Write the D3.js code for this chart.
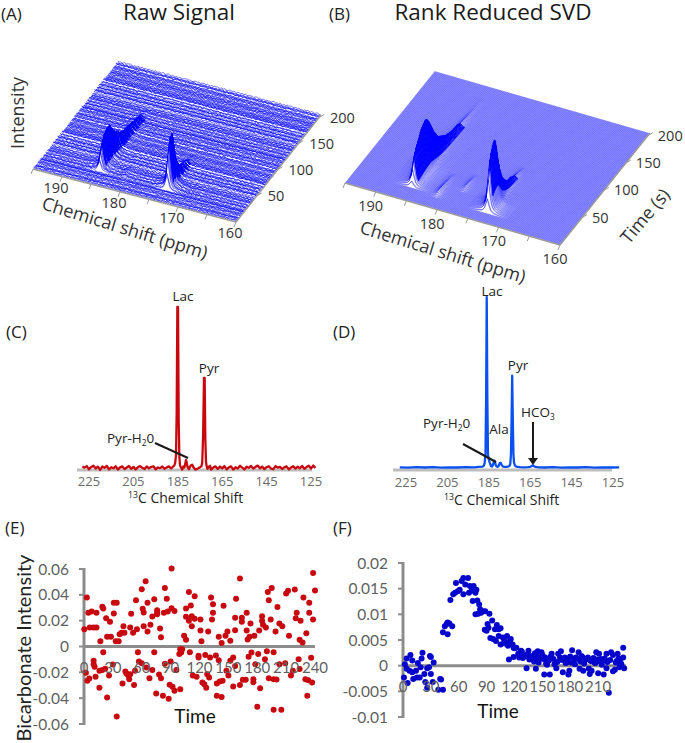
<!DOCTYPE html>
<html><head><meta charset="utf-8">
<script src="https://cdn.jsdelivr.net/npm/d3@7"></script>
<style>html,body{margin:0;padding:0;background:#fff}svg{display:block}text{font-family:"Open Sans",sans-serif}</style>
</head><body><svg id="c" width="685" height="743"></svg>
<script>
// ---------- surface data ----------
const ppmTicks=[190,180,170,160], ppmAllTicks=[195,190,185,180,175,170,165,160], timeTicks=[50,100,150,200];
const rowTimes=d3.range(1,205,1);
const ppmGrid=d3.range(195,159.9,-0.25);
const lineShape=[1,.62,.3,.16,.1,.07,.05,.035,.025,.018,.012,.007,.004];
// envelopes start at the first listed row (one entry per 2 s)
const lacA={ppm:185.2,start:24,amp:[10,18,22,25,27,29,31,32,33,34,34,33,32,30,28,26,24,22,20,18.5,17,16,15,14,13,12.5,12,11.5,11,10.5,10,9.8,9.5,9.2,9,8.5,8,7.8,7.4,7.2,7,6.6,6.3,5.9,5.5,5.1,4.7,4.3,3.9,3.5,3.1,2.7,2.3,1.9,1.5,1.1,.7,.4,.2]};
const pyrA={ppm:173.5,start:22,amp:[16,30,38,44,48,50,50,44,36,28,22,18,15,12.5,10.5,9,7.5,6.5,5.8,5.3,5,4.6,4.2,3.8,3.4,3,2.6,2.2,1.8,1.4,1,.7,.4,.2]};
const phoA={ppm:181,start:20,amp:[.6,1.2,1.8,2.2,2.2,2,1.8,1.6,1.5,1.3,1.2,1,.9,.6,.6,.3]};
const lacB={ppm:185.7,start:22,amp:[6,16,24,28,31,34,36,38,40,42,44,46,47,48,49,50,50,49,47,45,43,40,37,34,31,28,26,24,22,20,18,17,16,15,14,13,12,11,10,9.5,9,8.5,8,7.5,7,6.5,6,5.7,5.3,5,4.7,4.4,4.1,3.8,3.5,3.3,3,2.8,2.6,2.4,2.2,2,1.8,1.6,1.4,1.3,1.1,1,.9,.8,.7,.6,.5,.5,.4,.4,.3,.3,.2,.2]};
const pyrB={ppm:173.1,start:16,amp:[14,32,42,50,55,58,61,63,64,62,56,48,40,34,28,24,20,17,15,13,11,9.5,8.5,7.5,6.5,6,5.5,5,4.5,4,3.6,3.2,2.8,2.4,2,1.7,1.4,1.1,.8,.5,.3]};
const phoB={ppm:181.4,start:18,amp:[.6,1.5,2.4,3,3.3,3.4,3.4,3.1,2.8,2.6,2.4,2.2,2,1.7,1.4,1.2,1,.8,.6,.4,.2]};
const alaB={ppm:178.5,start:38,amp:[.5,1,1.5,1.9,2.1,2.1,2,1.9,1.6,1.4,1.1,.9,.6,.4,.2]};
const rippleA=[.4,-.8,.9,-.2,.6,-1,.3,.8,-.5,.1,-.9,.7,-.3,1,-.6,.2,-.7,.5,.9,-.4,-1,.6,.1,-.8,.8,-.1,.4,-.6,1,-.9,.3,.7,-.2,-.5,.9,-.7,.2,.6,-1,.5,-.3,.8,-.4];
const rowOffsetA=[.3,-.6,1,-.2,.5,-1,.2,.8,-.4,.6,-.9,1.8,-.3,.5,-.7,.1,2,-.5,.4,-.8,.2,1,-.2,-.6,.7,-.1,2.2,-.9,.3,.6,-.4,.1,-1,1.6,-.3,.5,-.6,.9,-.2,2.4,-.7,.4,.2,-1,.6,.1,1.7,-.5,.3,-.8,.8,-.2,.4,2.3,-.9,.5,-.1,-.6,.9,.2,-.4,1.9,-.7,.3,.6,-1,.1,.7,2.1,-.3,-.5,.4,-.8,1,.2,-.2,1.5,-.6,.5,-.9,.3,.8,-.1,2,-.4,.6,-.7,.2,1.2,-.5,.4,-.2,1.8,-.8,.1,.7,-.3,.5,1.4,-.6];
const rowPhase=[7,31,2,19,41,12,26,5,37,16,29,9,34,21,1,24,39,14,6,32,18,42,10,27,3,35,22,13,38];
// ---------- spectra data ----------
const specCppm=[228,227,226,225,224,223,222,221,220,219,218,217,216,215,214,213,212,211,210,209,208,207,206,205,204,203,202,201,200,199,198,197,196,195,194,193,192,191,190,189,188,187.2,186.6,186.2,185.8,185.5,185.2,184.9,184.6,184.3,184,183.6,183,182.5,182,181.6,181.3,181,180.6,180,179.2,178.5,178,177,176,175,174.4,174,173.6,173.2,172.9,172.6,172.3,172,171.6,171,170.5,170,169,168,167,166,165,164,163,162,161,160,159,158,157,156,155,154,153,152,151,150,149,148,147,146,145,144,143,142,141,140,139,138,137,136,135,134,133,132,131,130,129,128,127,126,125,124,123];
const specCval=[1,.2,1.2,-.8,.6,1.4,-.3,.8,-1.2,.9,.1,1.3,-.9,.5,-.2,1.1,-1,.4,1,-.7,.3,1.2,-.5,.7,-.9,.4,1.2,.1,-.6,1,-.2,.6,1.1,-.8,.3,-.1,.9,-.5,.4,1,-.3,.8,1.5,3,8,35,100,100,30,7,1.5,.5,-1,1,.3,3,5,3.5,.6,-.7,1.5,2,.5,-1,-.3,.5,1,3,20,56,56,18,4,1,-.5,.8,1.4,-1,.3,1,-.6,.9,-.2,1.2,-.8,.4,1,-1,.5,-.3,1.4,.2,-.9,.8,.1,1.3,-.4,.6,1.5,-.2,.9,-.7,.5,1.1,-.3,-.8,1.2,.2,.7,-.6,.4,1,-.9,.3,1.1,-.4,.8,-.2,1.3,-.5,.6,1.4,-.3,1.5,.1];
const specDppm=[228,224,220,216,212,208,204,200,196,192,190,188,187.4,187,186.6,186.3,186,185.7,185.4,185,184.5,184,183.5,183,182.6,182.3,182,181.6,181,180.4,180,179.6,179.2,178.8,178.2,177.5,176,175,174.6,174.3,174,173.7,173.4,173.1,172.8,172.4,172,171,170,168,166,165,164.2,163.7,163.2,162.5,161,158,154,150,146,142,138,134,130,126,122];
const specDval=[.4,.2,.5,.3,.5,.2,.4,.3,.5,.4,.6,.8,1.3,3,8,40,100,40,8,5,3,1.2,.8,1.8,3.5,4.2,3.5,1.5,.7,.9,2,3,3,1.8,.9,.6,.7,1.2,2.5,8,28,54,28,8,3,1.5,1,.6,.5,.4,.5,.7,1.2,1.6,1.1,.6,.4,.3,.5,.2,.4,.3,.5,.2,.4,.3,.4];
const shiftTicks=[225,205,185,165,145,125];
// ---------- scatter data ----------
const eTime=[0.3,3,4.5,8,6,10,13,13,17,19,20,23,24,28,27,31,31,34,33,36,37,39,41,42,48,49,51,54,55,60,61,62,62,64,66,66,69,71,73,76,76,76,79,80,84,83,86,87,91,91,94,104,106,106,106,109,109,111,112,112,115,115,121,121,122,129,132,134,134,133,140,143,145,147,149,152,157,158,157,162,164,164,169,169,170,172,173,177,182,185,185,186,189,191,192,194,195,199,201,203,206,213,210,212,219,220,221,225,224,227,228,231,234,234,238,238,240,
2,3.5,5.5,10,10,11,12,16,16,19,20,22,24,26,30,34,40,43,44,46,47,48,52,53,56,57,60,65,68,71,73,75,78,80,82,84,88,89,90,92,94,96,99,100,100,101,102,110,113,117,119,119,123,125,127,126,128,130,131,137,138,138,140,141,143,144,148,150,155,152,155,157,162,165,168,171,174,176,176,178,181,180,183,188,190,192,197,197,200,197,203,205,209,215,217,223,224,230,232,233,236,237];
const eValue=[.0134,.0379,.0261,.0271,.0147,.0147,.0261,.0147,.0041,.0307,.0294,.0219,.0075,.0075,.0191,.0255,.0338,.0338,.0041,.0041,.0095,.0106,.0157,.0106,.0147,.0253,.0106,.0359,.0134,.0444,.0292,.0263,.0157,.0506,.0116,.0338,.0168,.0232,.0366,.025,.0263,.0281,.0139,.0072,.0452,.0261,.0369,.0271,.0604,.0297,.0274,.0083,.0052,.0294,.023,.0421,.0199,.0317,.0157,.0235,.039,.0214,.0209,.0124,.0041,.0116,.0379,.0328,.0261,.0209,.0075,.0028,.0315,.0083,.0116,.0044,.0126,.0369,.0222,.0526,.0222,.0191,.0261,.0124,.0054,.0075,.0178,.0083,.0124,.0235,.0199,.0168,.0147,.0421,.0359,.0209,.0452,.0116,.0305,.0178,.0157,.0083,.041,.0431,.0441,.0219,.0261,.0199,.0052,.0031,.0379,.0103,.0338,.0261,.0209,.057,.0434,
-.0204,-.0266,-.0248,-.0137,-.0111,-.0157,-.0235,-.032,-.0188,-.0181,-.0044,-.0173,-.0395,-.0225,-.0139,-.0542,-.0286,-.0194,-.0209,-.0225,-.0253,-.0214,-.0299,-.0188,-.0044,-.0116,-.0129,-.0163,-.0245,-.0181,-.0044,-.0364,-.0217,-.0245,-.0382,-.0134,-.0405,-.0297,-.0116,-.0312,-.0343,-.0181,-.0059,-.033,-.0021,-.0046,-.0021,-.0044,-.0225,-.0235,-.0072,-.0085,-.0279,-.0292,-.032,-.0065,-.0214,-.024,-.0085,-.007,-.0382,-.0286,-.0106,-.0271,-.039,-.0266,-.0188,-.0225,-.031,-.0111,-.0085,-.015,-.0299,-.0258,-.0258,-.008,-.0046,-.0253,-.0276,-.0137,-.0059,-.0467,-.0323,-.0098,-.0036,-.0245,-.0044,-.0253,-.0255,-.049,-.0137,-.049,-.0129,-.0225,-.0188,-.0098,-.0175,-.0253,-.0382,-.0261,-.0088,-.0279];
const fTime=[1,2,4,5,4,7,8,10,10,11,14,15,16,18,19,20,21,23,24,26,26,28,29,30,30,33,32,38,40,41,43,43,45,47,48,48,50,53,51,54,56,57,59,61,63,65,65,67,70,71,72,74,75,76,78,79,80,82,78,81,83,84,86,88.5,88,90,91,93,94,92,96,97,99,100,101,103,103,105,105,107.5,109,110,112,113,115,116,118,119,120,122,114,119,124,125,127,129,133,131,135,137,139,142,143,145,143,149,151,153,152,158,155,157,160,163,165,167,170,172,174,176,178,179,181,182,184,186,189,192,190,194,199,201,203,204,206,208,210,211,213,216,218,219,221.5,219,224,228,229,231,234,237,237,238,226,233,
126,128,131,134,136,139,141,144,146,148,150,154,156,159,162,166,169,171,175,177,180,183,185,188,191,193,195,197,200,202,205,207,209,212,214,217,220,223,226,230,232,235];
const fValue=[-.0023,.0003,-.0006,-.0034,.0014,-.001,.0021,.001,-.0013,-.0026,-.001,-.0023,.0005,-.0023,-.0003,.0014,.0025,-.0016,-.0032,-.0005,-.0043,-.0003,.0019,.0017,-.0016,.0006,-.0032,-.0047,-.0026,-.0027,-.0047,.0065,.0077,.0081,.0061,.0084,.0082,.0077,.0128,.0139,.0142,.0161,.0145,.0148,.0165,.0171,.0139,.0158,.0171,.0142,.0155,.0146,.0126,.0155,.0142,.0148,.0127,.0119,.01,.0101,.011,.0103,.0106,.0106,.007,.0068,.0081,.0101,.0054,.0074,.0088,.0052,.0071,.0048,.0079,.0071,.0058,.0073,.0041,.0055,.0048,.0043,.0058,.0039,.0048,.0052,.0041,.0035,.0034,.0035,.0012,.0017,.0023,.0016,.0029,.0015,-.0005,.0019,.0029,.0013,.0019,.0024,.001,.0028,-.0006,.0026,.0013,.0016,-.0017,-.0017,.0002,.001,.0023,.0003,-.0005,.0023,.0028,-.0013,.0016,.0006,-.0017,-.001,.0006,.003,.0013,.0016,.0026,.0019,-.0006,-.001,.0016,-.0016,-.001,.001,.0006,.0026,-.0015,.0023,.0013,-.0017,.001,-.0005,-.0053,.0023,.0026,-.0008,.0006,.0023,.0006,.0035,.0016,-.0005,-.0011,-.0003,
.0021,.0027,.0018,.0022,.0012,.0017,.0008,.0019,.0006,.0015,.0021,.0004,.0009,.0018,.0013,.0007,.0016,.0011,.0005,.0014,.0018,.0009,.0003,.0013,.0008,.0017,.0004,.0012,-.0006,.0009,.0015,.0005,.0012,.0008,.0002,.0014,.0007,.0011,.0021,.0009,.0014,.0003];
const eX=[0,30,60,90,120,150,180,210,240], eY=[-.06,-.04,-.02,0,.02,.04,.06];
const fX=[0,30,60,90,120,150,180,210], fY=[-.01,-.005,0,.005,.01,.015,.02];

const svg=d3.select('#c');
const LBL='#333', GRAY='#8c8c8c';
function txt(x,y,s,o={}){const t=svg.append('text').attr('x',x).attr('y',y).attr('font-size',o.size||14).attr('fill',o.fill||'#222').attr('text-anchor',o.anchor||'middle').text(s);if(o.font)t.style('font-family',o.font);if(o.rot!==undefined)t.attr('transform',`rotate(${o.rot} ${x} ${y})`);return t;}
function scripted(x,y,parts,o={}){const t=svg.append('text').attr('x',x).attr('y',y).attr('font-size',o.size||14).attr('fill',o.fill||'#222').attr('text-anchor',o.anchor||'start');
  let prev=0;parts.forEach(p=>{const sp=t.append('tspan').text(p[0]);const d=p[1]||0;sp.attr('dy',d-prev);if(d)sp.attr('font-size',(o.size||14)*.62);prev=d;});return t;}

// ---------- waterfalls ----------
function waterfall(cfg){
  const s=d3.scaleLinear().domain([195,160]).range([0,1]);
  const u=d3.scaleLinear().domain([0,205]).range([0,1]);
  const z=d3.scaleLinear().domain([0,100]).range([0,100]);
  const P=(ppm,t,h=0)=>{const a=s(ppm),b=u(t);return [cfg.fl[0]+a*(cfg.fr[0]-cfg.fl[0])+b*(cfg.bl[0]-cfg.fl[0]),cfg.fl[1]+a*(cfg.fr[1]-cfg.fl[1])+b*(cfg.bl[1]-cfg.fl[1])-z(h)];};
  const g=svg.append('g');
  const amp=(pk,t,ppm)=>{const i=Math.floor((t-pk.start)/2);if(i<0||i>=pk.amp.length)return 0;const k=Math.round(Math.abs(ppm-pk.ppm)/.25);return k<lineShape.length?pk.amp[i]*lineShape[k]:0;};
  const line=d3.line().x(d=>d[0]).y(d=>d[1]);
  for(let r=rowTimes.length-1;r>=0;r--){
    const t=rowTimes[r];
    const off=cfg.noise?rowOffsetA[(r*37)%rowOffsetA.length]:0;
    const pts=ppmGrid.map((p,c)=>{let h=cfg.peaks.reduce((v,pk)=>v+amp(pk,t,p),0);
      if(cfg.noise)h+=cfg.noise*rippleA[(c+rowPhase[r%rowPhase.length]+(c>>2))%rippleA.length]+off*cfg.rowAmp;
      return P(p,t,h);});
    const base=[P(160,t,-2),P(195,t,-2)];
    const mask=pts.map((d,c)=>{const rising=pts[c+1]&&pts[c+1][1]<d[1]-2.5;return [d[0]+(rising?1.1:-.15),d[1]+cfg.fillDrop];});
    g.append('path').attr('d',line(mask.concat(base))+'Z').attr('fill','#fff');
    g.append('path').attr('d',line(pts)).attr('fill','none').attr('stroke','#0000ff').attr('stroke-width',cfg.sw);
    // the main peaks' flanks read as solid blue once they have risen
    cfg.peaks.slice(0,2).forEach(pk=>{const i=Math.floor((t-pk.start)/2);
      if(i>=3&&i<pk.amp.length&&pk.amp[i]>3){
        const seg=pts.filter((d,c)=>{const o=(pk.ppm-ppmGrid[c])/.25;return o>=-3&&o<=3;});
        g.append('path').attr('d',line(seg)).attr('fill','none').attr('stroke','#0000ff').attr('stroke-width',1);}
    });
  }
  // axes
  const ax=svg.append('g').attr('stroke','#9a9a9a').attr('fill','none');
  const pth=(a,b)=>ax.append('line').attr('x1',a[0]).attr('y1',a[1]).attr('x2',b[0]).attr('y2',b[1]);
  pth(P(195,0),P(160,0)).attr('stroke-width',1.4);
  pth(P(160,0),P(160,205)).attr('stroke-width',1.4);
  ppmAllTicks.forEach(p=>{const a=P(p,0);pth(a,[a[0]-2,a[1]+5]).attr('stroke-width',1);});
  timeTicks.forEach(t=>{const a=P(160,t);pth(a,[a[0]+5,a[1]-3]).attr('stroke-width',1);});
  ppmTicks.forEach(p=>{const a=P(p,0);txt(a[0]+cfg.xo[0],a[1]+cfg.xo[1],p,{size:14.5,fill:LBL});});
  timeTicks.forEach(t=>{const a=P(160,t);txt(a[0]+cfg.yo[0],a[1]+cfg.yo[1],t,{size:14.5,fill:LBL,anchor:'start'});});
}
waterfall({fl:[33,169],fr:[236,222],bl:[118,62],peaks:[lacA,pyrA,phoA],noise:.7,rowAmp:.65,sw:.55,fillDrop:.85,xo:[-6,16],yo:[11,5]});
waterfall({fl:[345,183],fr:[560,245],bl:[435,71],peaks:[lacB,pyrB,phoB,alaB],noise:0,rowAmp:0,sw:.42,fillDrop:.75,xo:[-5,19],yo:[10,5]});

// panel text
txt(1,20,'(A)',{size:17,anchor:'start'});
txt(329,20,'(B)',{size:17,anchor:'start'});
txt(6,338,'(C)',{size:17,anchor:'start'});
txt(333,338,'(D)',{size:17,anchor:'start'});
txt(5,534,'(E)',{size:17,anchor:'start'});
txt(333,534,'(F)',{size:17,anchor:'start'});
txt(179,20,'Raw Signal',{size:22.5,fill:'#1a1a1a'});
txt(493,20,'Rank Reduced SVD',{size:22.5,fill:'#1a1a1a'});
txt(24,113,'Intensity',{size:18,fill:LBL,rot:-90});
txt(123,234,'Chemical shift (ppm)',{size:18,fill:LBL,rot:17});
txt(441,258,'Chemical shift (ppm)',{size:18,fill:LBL,rot:17});
txt(650,220,'Time (s)',{size:18,fill:LBL,rot:-50});

// ---------- spectra ----------
function spectrum(cfg){
  const x=d3.scaleLinear().domain([225,125]).range(cfg.xr);
  const y=d3.scaleLinear().domain([0,100]).range(cfg.yr);
  const g=svg.append('g');
  g.append('line').attr('x1',cfg.ax[0]).attr('x2',cfg.ax[1]).attr('y1',cfg.yr[0]+2).attr('y2',cfg.yr[0]+2).attr('stroke','#bdbdbd').attr('stroke-width',3);
  g.append('path').datum(cfg.p.map((d,i)=>[d,cfg.v[i]])).attr('fill','none').attr('stroke',cfg.col).attr('stroke-width',cfg.sw).attr('stroke-linejoin','round')
   .attr('d',d3.line().x(d=>x(d[0])).y(d=>y(d[1])));
  shiftTicks.forEach(t=>txt(x(t),cfg.ly,t,{size:13,fill:'#6b6b6b'}));
}
spectrum({xr:[89,311],yr:[468,307],ax:[77,312],p:specCppm,v:specCval,col:'#c8080f',sw:2.3,ly:486});
spectrum({xr:[406,613],yr:[468,297],ax:[393,612],p:specDppm,v:specDval,col:'#0a50f0',sw:2.3,ly:487});
txt(183,301,'Lac',{size:13.5});txt(209,373,'Pyr',{size:13.5});
txt(492,296,'Lac',{size:13.5});txt(518,370,'Pyr',{size:13.5});
scripted(107,443,[['Pyr-H'],['2',3],['0']],{size:13.5});
scripted(423,428,[['Pyr-H'],['2',3],['0']],{size:13.5});
txt(499,434,'Ala',{size:13.5});
scripted(521,417,[['HCO'],['3',3]],{size:13.5});
scripted(128,503,[['13',-5],['C Chemical Shift']],{size:14});
scripted(444,505,[['13',-5],['C Chemical Shift']],{size:14});
const lw=(a,b,w)=>svg.append('line').attr('x1',a[0]).attr('y1',a[1]).attr('x2',b[0]).attr('y2',b[1]).attr('stroke','#1a1a1a').attr('stroke-width',w);
lw([155,443],[188,458],2);
lw([463,444],[496,462],2);
lw([533,422],[533,460],2);
svg.append('path').attr('d','M528,458L538,458L533,465Z').attr('fill','#1a1a1a');

// ---------- scatter ----------
function scatter(cfg){
  const x=d3.scaleLinear().domain(cfg.xd).range(cfg.xr);
  const y=d3.scaleLinear().domain(cfg.yd).range(cfg.yr);
  const g=svg.append('g');
  const st=s=>s.attr('stroke',GRAY).attr('stroke-width',3).attr('fill','none');
  st(g.append('line').attr('x1',x(0)).attr('x2',cfg.xr[1]).attr('y1',y(0)).attr('y2',y(0)));
  st(g.append('line').attr('x1',x(0)).attr('x2',x(0)).attr('y1',cfg.yr[1]-1).attr('y2',cfg.yr[0]+1));
  cfg.yt.forEach(v=>{g.append('line').attr('x1',x(0)-5).attr('x2',x(0)).attr('y1',y(v)).attr('y2',y(v)).attr('stroke',GRAY).attr('stroke-width',2);
    txt(x(0)-15,y(v)+5.5,v,{size:15.5,fill:'#5f5f5f',anchor:'end',font:'Lato'});});
  cfg.xt.forEach(v=>{txt(x(v),y(0)+26,v,{size:15,fill:'#5f5f5f',font:'Lato'});});
  g.selectAll('circle').data(cfg.t.map((d,i)=>[d,cfg.v[i]])).join('circle').attr('cx',d=>x(d[0])).attr('cy',d=>y(d[1])).attr('r',3).attr('fill',cfg.col);
}
scatter({xd:[0,240],xr:[84,315],yd:[-.06,.06],yr:[724,569],xt:eX,yt:eY,t:eTime,v:eValue,col:'#c8090f'});
scatter({xd:[0,240],xr:[403,626],yd:[-.01,.02],yr:[717,563],xt:fX,yt:fY,t:fTime,v:fValue,col:'#0505cc'});
txt(195,723,'Time',{size:19,font:'Lato',fill:'#111'});
txt(498,718,'Time',{size:19,font:'Lato',fill:'#111'});
txt(31,648,'Bicarbonate Intensity',{size:20,font:'Lato',fill:'#222',rot:-90});
</script></body></html>
